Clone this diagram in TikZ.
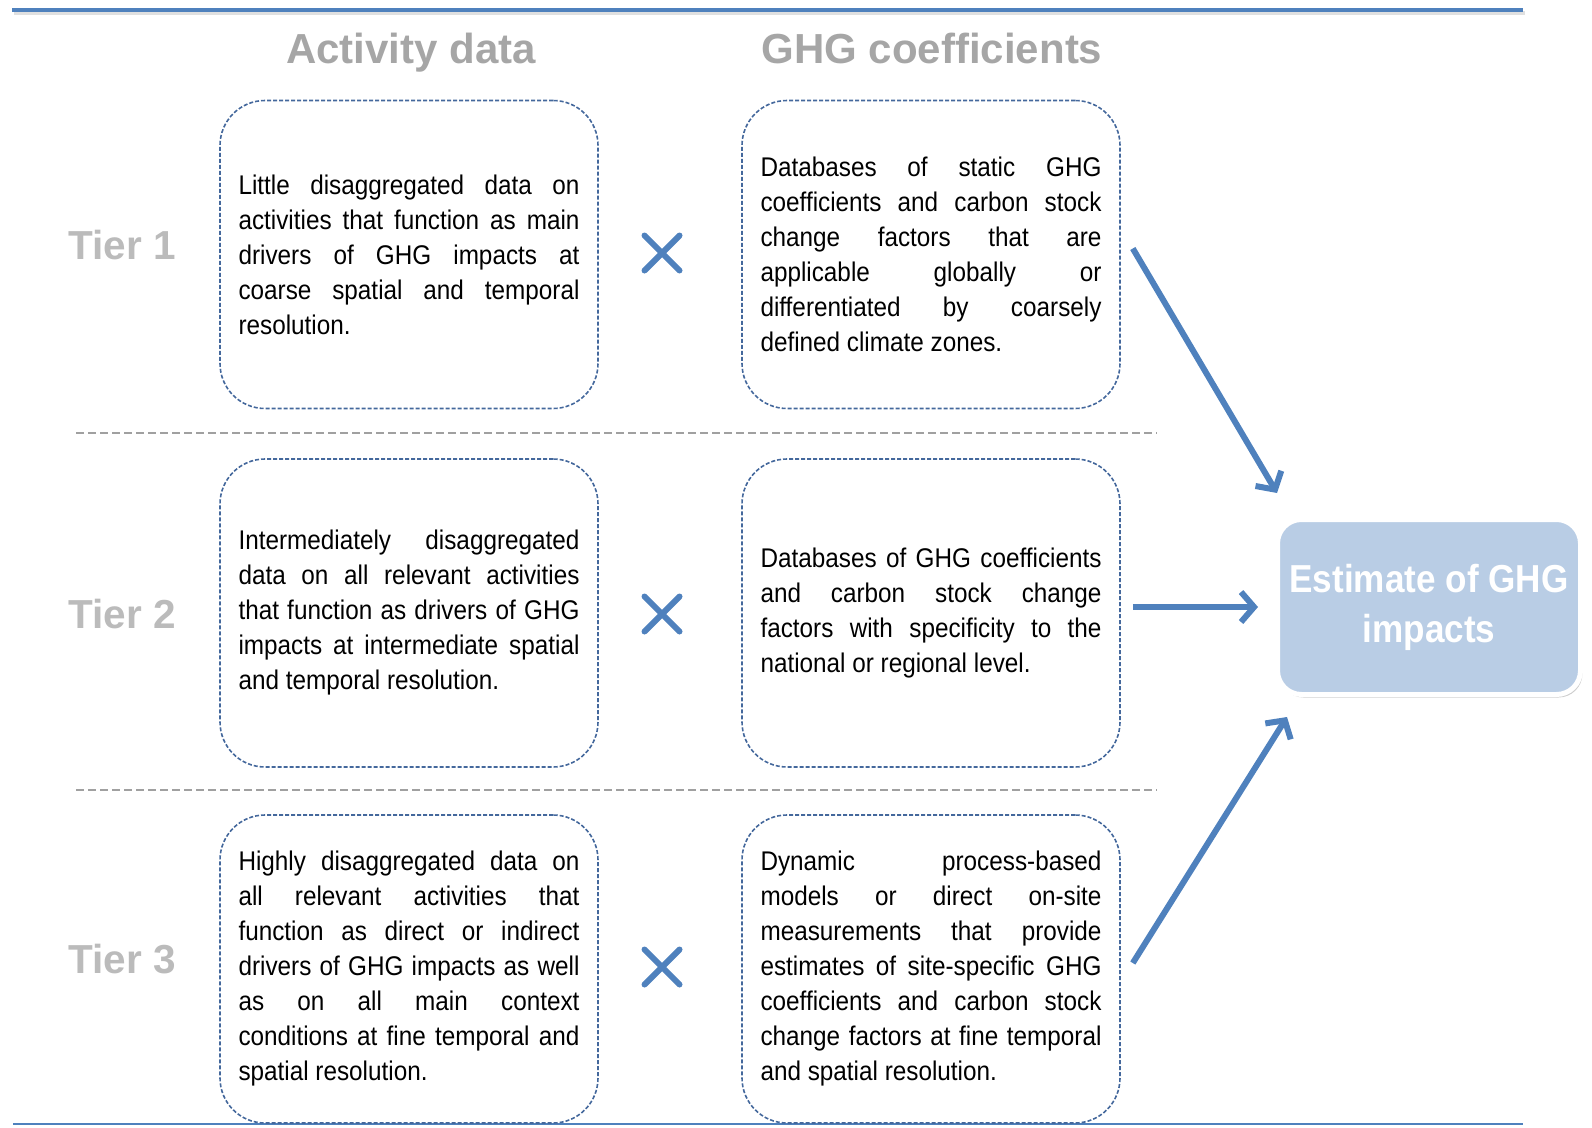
\documentclass[tikz,border=0pt]{standalone}
\usepackage{fontspec}
\setmainfont{Liberation Sans}
\newfontfamily\narrowfont{Liberation Sans}[FakeStretch=0.9]
\usepackage{tikz}
\usetikzlibrary{arrows.meta}
\usetikzlibrary{shapes.misc}
\usetikzlibrary{shadows}
\definecolor{tierblue}{HTML}{4F81BD}
\definecolor{boxline}{HTML}{44689C}
\definecolor{headgray}{HTML}{A6A6A6}
\definecolor{tiergray}{HTML}{BBBBBB}
\definecolor{sepgray}{HTML}{A0A0A0}
\definecolor{estfill}{HTML}{B9CDE5}
\newcommand{\cardfont}{\narrowfont\fontsize{27}{35}\selectfont
    \parindent=0pt \tolerance=10000 \hyphenpenalty=10000 \exhyphenpenalty=10000 }
\tikzstyle{every node}=[font=\narrowfont]
\tikzstyle{colhead}=[font=\fontsize{42}{50}\selectfont\bfseries, text=headgray, anchor=base]
\tikzstyle{tierlabel}=[font=\fontsize{40.5}{48}\selectfont\bfseries, text=tiergray]
\tikzstyle{card}=[draw=boxline, line width=1.6pt, dash pattern=on 4pt off 2pt,
    rounded corners=45pt, minimum width=378pt, minimum height=308pt,
    text width=341pt, align=justify, font=\cardfont]
\tikzstyle{mult}=[cross out, draw=tierblue, line width=6pt, line cap=round,
    minimum size=35pt, inner sep=0pt, outer sep=0pt]
\tikzstyle{tierline}=[draw=sepgray, line width=2.5pt, dash pattern=on 8pt off 4pt]
\tikzstyle{flow}=[->, draw=tierblue, line width=6pt]
\tikzstyle{estbox}=[fill=estfill, draw=white, line width=5pt, rounded corners=24pt,
    minimum width=303pt, minimum height=175pt, align=center, text=white,
    font={\narrowfont\fontsize{39}{50}\selectfont\bfseries},
    drop shadow={opacity=0.4, shadow xshift=2pt, shadow yshift=-3pt}]

\begin{document}
\begin{tikzpicture}[x=1pt, y=-1pt, >={Straight Barb[length=13pt,width=30pt]}]
    \useasboundingbox (0,0) rectangle (1592,1127);

    % rules at top and bottom
    \draw[line width=4pt, draw=black!20, opacity=0.6] (14,13) -- (1525,13);
    \draw[line width=4pt, draw=tierblue] (12,10) -- (1523,10);
    \draw[line width=2pt, draw=tierblue] (13,1124) -- (1523,1124);

    \node[colhead] (acthead) at (411,63) {Activity data};
    \node[colhead] (ghghead) at (932,63) {GHG coefficients};

    \node[tierlabel] (tier1) at (122,245) {Tier 1};
    \node[tierlabel] (tier2) at (122,614) {Tier 2};
    \node[tierlabel] (tier3) at (122,959) {Tier 3};

    \draw[tierline] (76,433) -- (1157,433);
    \draw[tierline] (76,790) -- (1157,790);

    % tier 1
    \node[card] (act1) at (409,254.5) {Little disaggregated data on\linebreak
        activities that function as main\linebreak drivers of GHG impacts at\linebreak
        coarse spatial and temporal\linebreak resolution.};
    \node[mult] (x1) at (662,253) {};
    \node[card] (ghg1) at (931,254.5) {Databases of static GHG\linebreak
        coefficients and carbon stock\linebreak change factors that are\linebreak
        applicable globally or\linebreak differentiated by coarsely\linebreak
        defined climate zones.};

    % tier 2
    \node[card] (act2) at (409,613) {Intermediately disaggregated\linebreak
        data on all relevant activities\linebreak that function as drivers of GHG\linebreak
        impacts at intermediate spatial\linebreak and temporal resolution.};
    \node[mult] (x2) at (662,614) {};
    \node[card] (ghg2) at (931,613) {Databases of GHG coefficients\linebreak
        and carbon stock change\linebreak factors with specificity to the\linebreak
        national or regional level.};

    % tier 3
    \node[card] (act3) at (409,969) {Highly disaggregated data on\linebreak
        all relevant activities that\linebreak function as direct or indirect\linebreak
        drivers of GHG impacts as well\linebreak as on all main context\linebreak
        conditions at fine temporal and\linebreak spatial resolution.};
    \node[mult] (x3) at (662,967) {};
    \node[card] (ghg3) at (931,969) {Dynamic process-based\linebreak
        models or direct on-site\linebreak measurements that provide\linebreak
        estimates of site-specific GHG\linebreak coefficients and carbon stock\linebreak
        change factors at fine temporal\linebreak and spatial resolution.};

    \node[estbox] (est) at (1429,607) {Estimate of GHG\\impacts};

    \draw[flow] ([shift={(12,-6)}]ghg1.east) -- ([shift={(2,-24)}]est.north west);
    \draw[flow] ([shift={(12,-6)}]ghg2.east) -- ([xshift=-17pt]est.west);
    \draw[flow] ([shift={(12,-6)}]ghg3.east) -- ([shift={(12,20)}]est.south west);
\end{tikzpicture}
\end{document}
